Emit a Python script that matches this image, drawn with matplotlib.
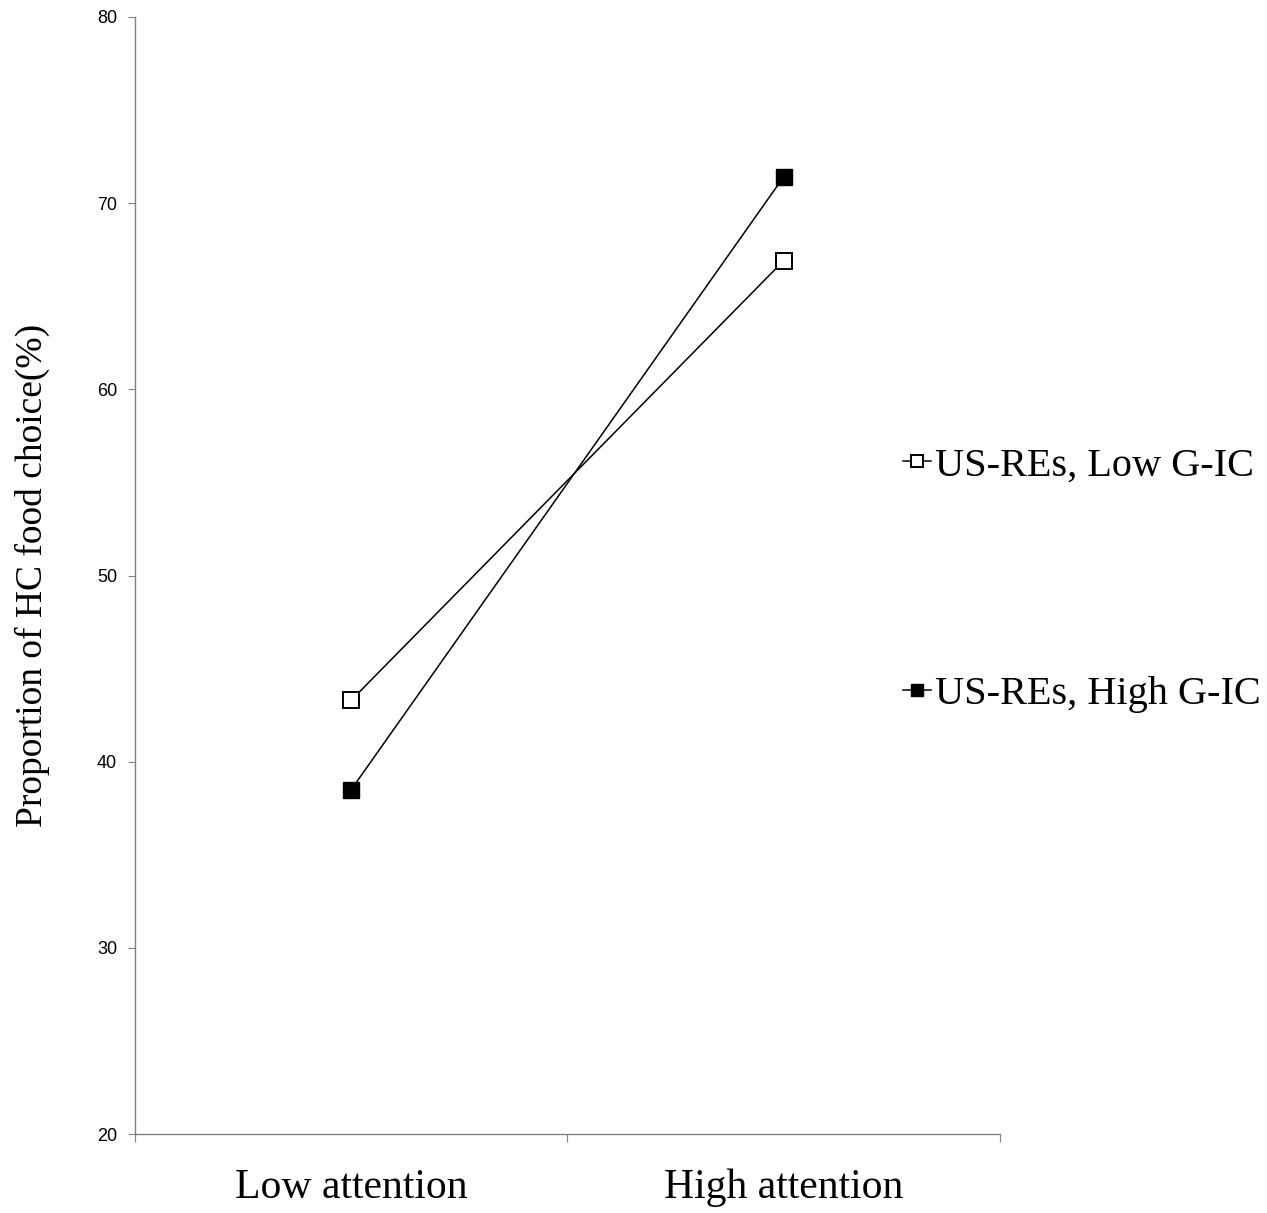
import matplotlib
matplotlib.use("Agg")
import matplotlib.pyplot as plt
import numpy as np

conditions = ['Low attention', 'High attention']
low_gic = [43.3, 66.9]
high_gic = [38.5, 71.4]
series_labels = ['US-REs, Low G-IC', 'US-REs, High G-IC']
yticks = [20, 30, 40, 50, 60, 70, 80]

fig = plt.figure(figsize=(12.67, 12.13), dpi=100)
ax = fig.add_axes([0.1066, 0.0651, 0.789 - 0.1066, 0.986 - 0.0651])

pos = np.arange(len(conditions)) + 0.5
ax.plot(pos, low_gic, color='black', lw=1.1, marker='s', ms=11,
        mfc='white', mec='black', mew=1.4, label=series_labels[0])
ax.plot(pos, high_gic, color='black', lw=1.1, marker='s', ms=12,
        mfc='black', mec='black', label=series_labels[1])

ax.set_xlim(0, len(conditions))
ax.set_ylim(20, 80)
ax.set_yticks(yticks)
ax.set_xticks(np.arange(len(conditions) + 1))
ax.set_xticklabels([])
ax.set_xticks(pos, minor=True)
ax.set_xticklabels(conditions, minor=True, fontfamily='Liberation Serif', fontsize=30)
ax.tick_params(axis='x', which='minor', length=0, pad=25)
ax.tick_params(axis='x', which='major', length=6, color='#808080', direction='out')
ax.tick_params(axis='y', length=5, color='#808080', direction='out', pad=8,
               labelsize=13)
for lab in ax.get_yticklabels():
    lab.set_fontfamily('Liberation Sans')

for s in ['top', 'right']:
    ax.spines[s].set_visible(False)
for s in ['left', 'bottom']:
    ax.spines[s].set_color('#808080')
    ax.spines[s].set_linewidth(1.0)

ax.set_ylabel('Proportion of HC food choice(%)', fontfamily='Liberation Serif',
              fontsize=27)
ax.yaxis.set_label_coords(-0.098, 0.5)

leg = fig.legend(loc='center left', bbox_to_anchor=(0.684, 0.5218),
                 frameon=False, prop={'family': 'Liberation Serif', 'size': 29},
                 handlelength=0.7, handletextpad=0.1, labelspacing=4.75,
                 markerscale=0.75)

fig.savefig('out.png', dpi=100, facecolor='white')
